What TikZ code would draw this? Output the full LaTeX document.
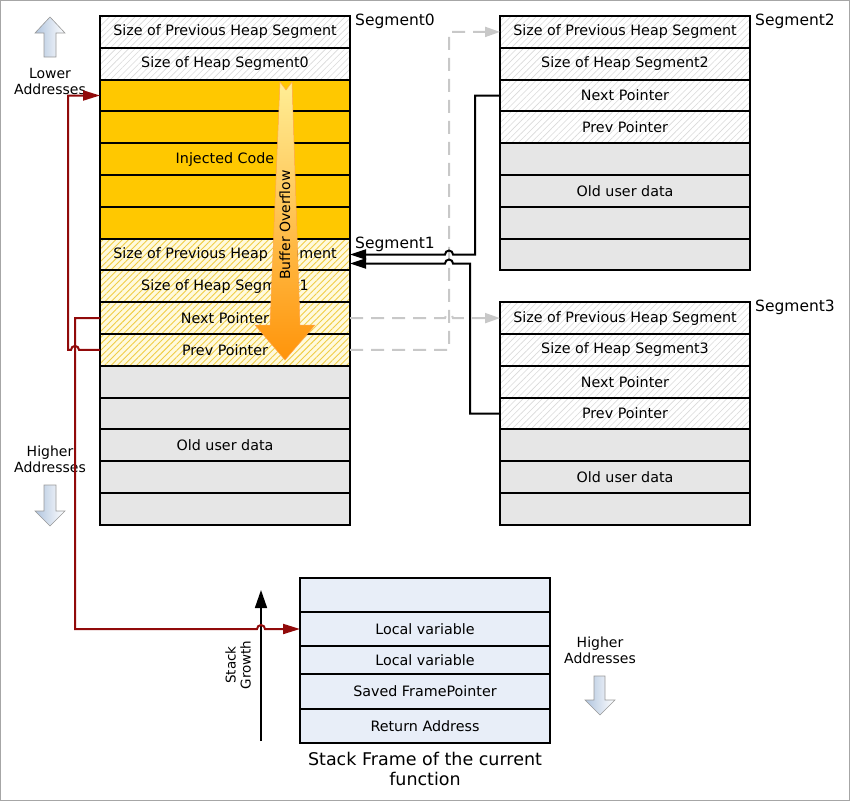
\documentclass[tikz,border=0pt]{standalone}
\usepackage{fontspec}
\setmainfont{DejaVu Sans}
\usepackage{xcolor}
\usetikzlibrary{positioning}
\usetikzlibrary{arrows.meta}
\usetikzlibrary{patterns.meta}

\definecolor{codeyellow}{RGB}{255,200,0}
\definecolor{hitfill}{RGB}{255,250,222}
\definecolor{hithatch}{RGB}{240,205,70}
\definecolor{hdrhatch}{RGB}{218,218,218}
\definecolor{oldgrey}{RGB}{230,230,230}
\definecolor{stackblue}{RGB}{232,238,248}
\definecolor{heapred}{RGB}{145,10,10}
\definecolor{dashgrey}{RGB}{200,200,200}
\definecolor{steelarrow}{RGB}{176,196,222}

\tikzset{
  heapcell/.style={draw=black, line width=2pt, minimum width=250pt, minimum height=31.8pt,
    inner sep=0pt, outer sep=0pt, font=\fontsize{14.3}{16}\selectfont},
  hdrcell/.style={heapcell, preaction={fill=white},
    pattern={Lines[angle=45,distance=4.5pt,line width=.6pt]}, pattern color=hdrhatch},
  hitcell/.style={heapcell, preaction={fill=hitfill},
    pattern={Lines[angle=45,distance=4.5pt,line width=.9pt]}, pattern color=hithatch},
  codecell/.style={heapcell, fill=codeyellow},
  oldcell/.style={heapcell, fill=oldgrey},
  stackcell/.style={heapcell, fill=stackblue},
  seglabel/.style={anchor=north west, inner sep=0pt, xshift=5pt, yshift=2pt,
    font=\fontsize{15.5}{18}\selectfont},
  addrtext/.style={align=center, inner sep=0pt, font=\fontsize{14}{16}\selectfont},
  addrarrow/.style={draw=gray!80, line width=.6pt, left color=steelarrow, right color=white},
  redlink/.style={draw=heapred, line width=2pt, -{Triangle[length=17pt,width=10pt]}},
  blklink/.style={draw=black, line width=2pt, -{Triangle[length=16pt,width=10pt]}},
  greylink/.style={draw=dashgrey, line width=2pt, dash pattern=on 13pt off 8pt,
    -{Triangle[length=15pt,width=10pt]}},
}

\begin{document}
\begin{tikzpicture}[x=1pt, y=-1pt]

    \useasboundingbox (0,0) rectangle (850,801);
    \draw[gray!70, line width=1pt] (0.5,0.5) rectangle (849.5,800.5);

    % Segment0 and Segment1
    \node[hdrcell] (prevsize0) at (225,31.9) {Size of Previous Heap Segment};
    \node[hdrcell, below=0pt of prevsize0] (size0) {Size of Heap Segment0};
    \node[codecell, below=0pt of size0] (inj1) {};
    \node[codecell, below=0pt of inj1] (inj2) {};
    \node[codecell, below=0pt of inj2] (inj3) {Injected Code};
    \node[codecell, below=0pt of inj3] (inj4) {};
    \node[codecell, below=0pt of inj4] (inj5) {};
    \node[hitcell, below=0pt of inj5] (prevsize1) {Size of Previous Heap Segment};
    \node[hitcell, below=0pt of prevsize1] (size1) {Size of Heap Segment1};
    \node[hitcell, below=0pt of size1] (next1) {Next Pointer};
    \node[hitcell, below=0pt of next1] (prev1) {Prev Pointer};
    \node[oldcell, below=0pt of prev1] (old1a) {};
    \node[oldcell, below=0pt of old1a] (old1b) {};
    \node[oldcell, below=0pt of old1b] (old1c) {Old user data};
    \node[oldcell, below=0pt of old1c] (old1d) {};
    \node[oldcell, below=0pt of old1d] (old1e) {};
    \node[seglabel] (lab0) at (prevsize0.north east) {Segment0};
    \node[seglabel] (lab1) at (prevsize1.north east) {Segment1};

    % Segment2
    \node[hdrcell] (prevsize2) at (625,31.9) {Size of Previous Heap Segment};
    \node[hdrcell, below=0pt of prevsize2] (size2) {Size of Heap Segment2};
    \node[hdrcell, below=0pt of size2] (next2) {Next Pointer};
    \node[hdrcell, below=0pt of next2] (prev2) {Prev Pointer};
    \node[oldcell, below=0pt of prev2] (old2a) {};
    \node[oldcell, below=0pt of old2a] (old2b) {Old user data};
    \node[oldcell, below=0pt of old2b] (old2c) {};
    \node[oldcell, below=0pt of old2c] (old2d) {};
    \node[seglabel] (lab2) at (prevsize2.north east) {Segment2};

    % Segment3
    \node[hdrcell] (prevsize3) at (625,318.1) {Size of Previous Heap Segment};
    \node[hdrcell, below=0pt of prevsize3] (size3) {Size of Heap Segment3};
    \node[hdrcell, below=0pt of size3] (next3) {Next Pointer};
    \node[hdrcell, below=0pt of next3] (prev3) {Prev Pointer};
    \node[oldcell, below=0pt of prev3] (old3a) {};
    \node[oldcell, below=0pt of old3a] (old3b) {Old user data};
    \node[oldcell, below=0pt of old3b] (old3c) {};
    \node[seglabel] (lab3) at (prevsize3.north east) {Segment3};

    % Stack frame
    \node[stackcell, minimum height=34pt] (frame0) at (425,595) {};
    \node[stackcell, minimum height=34pt, below=0pt of frame0] (local1) {Local variable};
    \node[stackcell, minimum height=28pt, below=0pt of local1] (local2) {Local variable};
    \node[stackcell, minimum height=35pt, below=0pt of local2] (savedfp) {Saved FramePointer};
    \node[stackcell, minimum height=34pt, below=0pt of savedfp] (retaddr) {Return Address};
    \node[below=9pt of retaddr, align=center, inner sep=0pt,
      font=\fontsize{17.5}{20}\selectfont] (title) {Stack Frame of the current\\function};

    % Stack growth
    \coordinate (growthbot) at (261,741);
    \coordinate (growthtop) at (261,590);
    \draw[line width=1.6pt, -{Triangle[length=18pt,width=12pt]}] (growthbot) -- (growthtop);
    \node[rotate=90, align=center, inner sep=0pt,
      font=\fontsize{13.5}{15}\selectfont] (growth) at (238,665) {Stack\\Growth};

    % Address direction
    \draw[addrarrow] (50,17) -- (65,33) -- (56,33) -- (56,57) -- (44,57) -- (44,33) -- (35,33) -- cycle;
    \node[addrtext] (lower) at (50,81) {Lower\\Addresses};
    \draw[addrarrow] (44,485) -- (56,485) -- (56,511) -- (65,511) -- (50,526) -- (35,511) -- (44,511) -- cycle;
    \node[addrtext] (higher) at (50,459.5) {Higher\\Addresses};
    \draw[addrarrow] (594,676) -- (605,676) -- (605,700) -- (615,700) -- (600,715) -- (585,700) -- (594,700) -- cycle;
    \node[addrtext] (higher2) at (600,650) {Higher\\Addresses};

    % Connect the nodes
    \draw[greylink] (prev1.east) -- (449,349.9) |- (prevsize2.west);
    \draw[greylink] (next1.east) -- (445,318.1) arc[start angle=180, end angle=0, radius=4pt] -- (prevsize3.west);
    \draw[blklink] (next2.west) -| (475,254.5) -- (453,254.5)
      arc[start angle=0, end angle=180, radius=4pt] -- (prevsize1.east);
    \draw[blklink] (prev3.west) -| (470,263.5) -- (453,263.5)
      arc[start angle=0, end angle=180, radius=4pt] -- ([yshift=-9pt]prevsize1.east);
    \draw[redlink] (prev1.west) -- (79,349.9) arc[start angle=0, end angle=180, radius=4pt]
      -- (68,349.9) |- (inj1.west);
    \draw[redlink] (next1.west) -| (75,629) -- (257,629)
      arc[start angle=180, end angle=0, radius=4pt] -- (local1.west);

    % Buffer overflow
    \draw[draw=orange!70, line width=.5pt, top color={rgb,255:red,255;green,238;blue,150},
      bottom color={rgb,255:red,255;green,148;blue,10}]
      (280,82) -- (286,90) -- (292,82) -- (300,325) -- (315,325) -- (285,360)
      -- (255,325) -- (270,325) -- cycle;
    \node[rotate=90, inner sep=0pt, font=\fontsize{14}{16}\selectfont] (overflow) at (285,225) {Buffer Overflow};

\end{tikzpicture}
\end{document}
